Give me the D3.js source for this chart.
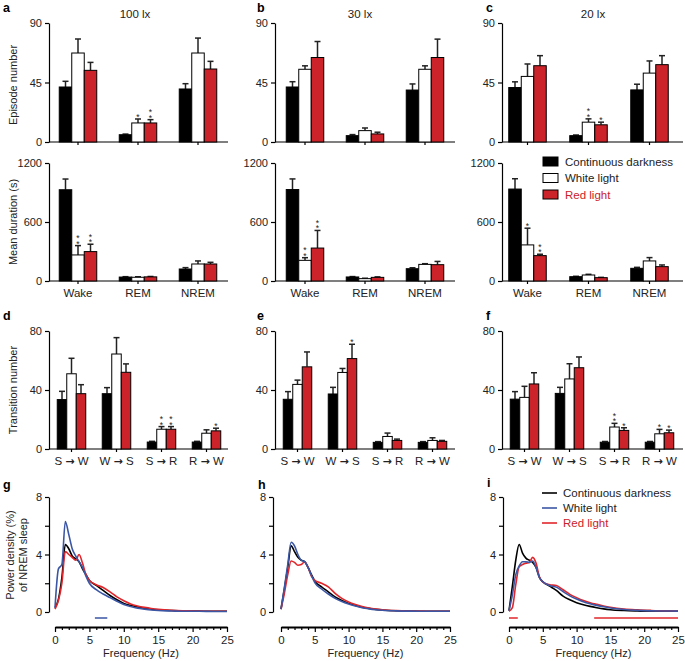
<!DOCTYPE html>
<html><head><meta charset="utf-8">
<script src="https://cdn.jsdelivr.net/npm/d3@7"></script>
<style>
body{margin:0;background:#fff;}
text{font-family:"Liberation Sans",Arial,sans-serif;}
</style></head>
<body><svg id="c" width="685" height="661"></svg>
<script>
// ---------- DATA ----------
const conditions = ["Continuous darkness", "White light", "Red light"];
const stages = ["Wake", "REM", "NREM"];
const transitions = ["S|W", "W|S", "S|R", "R|W"];
const luxLabels = ["100 lx", "30 lx", "20 lx"];
const colors = ["#000000", "#ffffff", "#cc2229"];
const lineColors = ["#000000", "#3a56a5", "#e0262b"];

// Episode number [stage][condition]
const episode100 = [[41.6, 67.3, 54.2], [5.5, 14.4, 14.4], [40.1, 67.3, 55.2]];
const episode100Err = [[4.3, 10.6, 6.0], [0.5, 3.0, 2.5], [4.0, 11.3, 5.8]];
const episode30 = [[41.6, 55.0, 63.9], [4.8, 8.6, 6.1], [39.3, 55.0, 63.9]];
const episode30Err = [[4.0, 2.6, 12.1], [0.8, 2.0, 1.3], [4.6, 2.6, 13.9]];
const episode20 = [[41.2, 49.6, 57.7], [4.8, 15.0, 13.0], [39.4, 52.1, 58.5]];
const episode20Err = [[4.3, 9.4, 7.6], [0.5, 2.5, 2.0], [4.3, 9.2, 6.8]];
const episodeStars = [
  [[0, 0, 0], [0, 1, 2], [0, 0, 0]],
  [[0, 0, 0], [0, 0, 0], [0, 0, 0]],
  [[0, 0, 0], [0, 2, 1], [0, 0, 0]]
];

// Mean duration (s)
const duration100 = [[928, 265, 299], [40, 38, 42], [122, 173, 173]];
const duration100Err = [[109, 95, 75], [4, 5, 4], [14, 31, 17]];
const duration30 = [[930, 210, 335], [41, 24, 37], [125, 169, 166]];
const duration30Err = [[108, 27, 179], [4, 4, 5], [10, 7, 33]];
const duration20 = [[935, 367, 258], [44, 61, 34], [129, 204, 146]];
const duration20Err = [[105, 170, 14], [4, 7, 3], [10, 34, 17]];
const durationStars = [
  [[0, 2, 2], [0, 0, 0], [0, 0, 0]],
  [[0, 2, 2], [0, 0, 0], [0, 0, 0]],
  [[0, 1, 2], [0, 0, 0], [0, 0, 0]]
];

// Transition number [transition][condition]
const trans100 = [[33.5, 51.0, 37.5], [37.5, 64.4, 52.0], [4.7, 13.4, 13.4], [4.7, 10.7, 12.3]];
const trans100Err = [[5.6, 10.5, 6.1], [4.1, 11.1, 5.7], [0.5, 1.8, 1.8], [0.5, 2.3, 1.8]];
const trans30 = [[33.7, 43.8, 55.7], [37.3, 51.9, 61.3], [4.5, 8.5, 5.8], [4.5, 5.8, 5.2]];
const trans30Err = [[5.2, 2.9, 10.1], [4.5, 2.7, 9.7], [0.5, 2.3, 0.9], [0.5, 1.8, 0.6]];
const trans20 = [[33.8, 35.0, 44.1], [37.7, 47.5, 55.1], [4.6, 14.9, 12.6], [4.6, 10.3, 11.0]];
const trans20Err = [[5.1, 7.5, 7.6], [4.1, 10.3, 7.3], [0.5, 2.5, 1.8], [0.5, 3.0, 1.8]];
const transStars = [
  [[0, 0, 0], [0, 0, 0], [0, 2, 2], [0, 0, 1]],
  [[0, 0, 0], [0, 0, 1], [0, 0, 0], [0, 0, 0]],
  [[0, 0, 0], [0, 0, 0], [0, 2, 1], [0, 1, 1]]
];

// Power density (% of NREM sleep)
const freq = [0, 0.5, 1, 1.5, 2, 2.5, 3, 3.5, 4, 4.5, 5, 6, 7, 8, 9, 10, 11, 12, 13, 14, 15, 17, 19, 21, 23, 25];
const power100Dark  = [0.3, 0.9, 2.4, 4.7, 4.4, 3.9, 3.7, 3.5, 3.0, 2.6, 2.2, 1.85, 1.5, 1.15, 0.85, 0.6, 0.45, 0.35, 0.27, 0.2, 0.15, 0.1, 0.07, 0.06, 0.05, 0.05];
const power100White = [0.3, 3.0, 3.3, 6.3, 5.4, 4.4, 3.9, 3.5, 3.1, 2.5, 2.0, 1.55, 1.25, 1.0, 0.75, 0.52, 0.38, 0.27, 0.2, 0.14, 0.1, 0.07, 0.05, 0.05, 0.04, 0.04];
const power100Red   = [0.2, 0.8, 2.0, 4.2, 4.0, 3.8, 3.6, 4.0, 3.4, 2.6, 2.2, 1.9, 1.7, 1.4, 1.05, 0.78, 0.56, 0.42, 0.32, 0.24, 0.18, 0.11, 0.08, 0.06, 0.05, 0.05];
const power30Dark   = [0.2, 1.6, 3.1, 4.6, 4.2, 3.8, 3.6, 3.5, 3.1, 2.6, 2.15, 1.75, 1.4, 1.05, 0.8, 0.6, 0.45, 0.33, 0.25, 0.18, 0.14, 0.09, 0.07, 0.05, 0.05, 0.05];
const power30White  = [0.2, 1.7, 3.3, 4.85, 4.6, 4.0, 3.6, 3.5, 3.1, 2.55, 2.05, 1.6, 1.25, 0.95, 0.73, 0.56, 0.42, 0.3, 0.22, 0.16, 0.12, 0.08, 0.06, 0.05, 0.05, 0.05];
const power30Red    = [0.2, 1.3, 2.6, 3.55, 3.45, 3.25, 3.3, 3.5, 3.1, 2.5, 2.2, 2.0, 1.75, 1.3, 0.95, 0.7, 0.52, 0.38, 0.28, 0.21, 0.16, 0.1, 0.07, 0.06, 0.05, 0.05];
const power20Dark   = [0.1, 1.8, 3.6, 4.7, 4.1, 3.75, 3.6, 3.45, 3.1, 2.4, 2.1, 1.8, 1.5, 1.1, 0.85, 0.65, 0.5, 0.39, 0.3, 0.22, 0.16, 0.1, 0.07, 0.05, 0.05, 0.05];
const power20White  = [0.1, 1.2, 2.6, 3.2, 3.5, 3.5, 3.45, 3.55, 3.1, 2.4, 2.1, 1.85, 1.73, 1.42, 1.12, 0.9, 0.72, 0.58, 0.46, 0.36, 0.28, 0.17, 0.11, 0.08, 0.07, 0.06];
const power20Red    = [0.05, 0.3, 1.9, 3.15, 3.3, 3.4, 3.45, 3.8, 3.4, 2.45, 2.1, 1.9, 1.84, 1.55, 1.23, 1.0, 0.8, 0.65, 0.53, 0.42, 0.33, 0.21, 0.15, 0.11, 0.08, 0.07];
// significance bars [from Hz, to Hz, condition index]
const sig100 = [[5.8, 7.6, 1]];
const sig30 = [];
const sig20 = [[0, 1.3, 2], [12.6, 25, 2]];

// ---------- LAYOUT ----------
const svg = d3.select("#c");
const FONT = 11;
const panelsX = [
  {axis: 49, band: [48, 228], end: 228, title: 135, letter: 3},
  {axis: 275, band: [275, 455], end: 455, title: 360, letter: 257},
  {axis: 502, band: [497, 680], end: 683, title: 593, letter: 486}
];

function yAxis(g, y, ticks, labels) {
  const ax = d3.axisLeft(y).tickValues(ticks).tickSize(4).tickSizeOuter(0).tickPadding(3)
    .tickFormat(d => labels === undefined || labels.includes(d) ? d : "");
  g.call(ax);
  g.select(".domain").attr("stroke", "#000").attr("stroke-width", 1.2);
  g.selectAll(".tick line").attr("stroke", "#000").attr("stroke-width", 1.2);
  g.selectAll(".tick text").attr("font-size", FONT).attr("fill", "#222").attr("font-family", "Liberation Sans, Arial");
}

function barPanel(px, yRange, yMax, yTicks, cats, vals, errs, stars, bw, catLabels) {
  const g = svg.append("g");
  const x0 = d3.scaleBand().domain(cats).range(px.band).paddingInner(0).paddingOuter(0);
  const x1 = d3.scaleBand().domain(conditions).range([-1.5 * bw, 1.5 * bw]);
  const y = d3.scaleLinear().domain([0, yMax]).range(yRange);
  g.append("line").attr("x1", px.axis).attr("x2", px.end).attr("y1", yRange[0]).attr("y2", yRange[0])
    .attr("stroke", "#000").attr("stroke-width", 1.2);
  cats.forEach((c, i) => {
    const cx = x0(c) + x0.bandwidth() / 2;
    g.append("line").attr("x1", cx).attr("x2", cx).attr("y1", yRange[0]).attr("y2", yRange[0] + 3)
      .attr("stroke", "#000").attr("stroke-width", 1.2);
    conditions.forEach((cond, j) => {
      const v = vals[i][j], e = errs[i][j];
      const bx = cx + x1(cond);
      const bc = bx + bw / 2;
      g.append("line").attr("x1", bc).attr("x2", bc).attr("y1", y(v)).attr("y2", y(v + e))
        .attr("stroke", "#222").attr("stroke-width", 1.5);
      g.append("line").attr("x1", bc - 3).attr("x2", bc + 3).attr("y1", y(v + e)).attr("y2", y(v + e))
        .attr("stroke", "#222").attr("stroke-width", 1.5);
      g.append("rect").attr("x", bx).attr("y", y(v)).attr("width", bw).attr("height", y(0) - y(v))
        .attr("fill", colors[j]).attr("stroke", "#000").attr("stroke-width", 1);
      const ns = stars[i][j];
      if (ns > 0) {
        const t = g.append("text").attr("text-anchor", "middle").attr("font-size", 8.5).attr("fill", "#222");
        for (let s = ns - 1; s >= 0; s--) {
          t.append("tspan").attr("x", bc).attr("y", y(v + e) + 1 - s * 5.5).text("*");
        }
      }
    });
    if (catLabels) {
      const t = g.append("text").attr("x", cx).attr("y", yRange[0] + 16).attr("text-anchor", "middle")
        .attr("font-size", FONT + 0.5).attr("fill", "#222");
      const lab = catLabels[i];
      if (lab.includes("|")) {
        const [a, b] = lab.split("|");
        t.append("tspan").text(a + " ");
        t.append("tspan").attr("font-weight", "bold").attr("font-family", "DejaVu Sans").attr("font-size", 11).text("\u2192");
        t.append("tspan").text(" " + b);
      } else t.text(lab);
    }
  });
  const ga = g.append("g").attr("transform", `translate(${px.axis},0)`);
  yAxis(ga, y, yTicks);
}

const epData = [[episode100, episode100Err], [episode30, episode30Err], [episode20, episode20Err]];
const duData = [[duration100, duration100Err], [duration30, duration30Err], [duration20, duration20Err]];
const trData = [[trans100, trans100Err], [trans30, trans30Err], [trans20, trans20Err]];

for (let p = 0; p < 3; p++) {
  barPanel(panelsX[p], [142, 23], 90, [0, 45, 90], stages, epData[p][0], epData[p][1], episodeStars[p], 12.5, null);
  barPanel(panelsX[p], [281, 163], 1200, [0, 600, 1200], stages, duData[p][0], duData[p][1], durationStars[p], 12.5, stages);
  const px3 = {axis: panelsX[p].axis, band: [panelsX[p].axis, panelsX[p].axis + 180], end: panelsX[p].end};
  barPanel(px3, [449, 331], 80, [0, 40, 80], transitions, trData[p][0], trData[p][1], transStars[p], 9.5, transitions);
  svg.append("text").attr("x", panelsX[p].title).attr("y", 18).attr("text-anchor", "middle")
    .attr("font-size", FONT + 0.5).attr("fill", "#222").text(luxLabels[p]);
}

// panel letters
const letters = [["a", 3, 12], ["b", 257, 12], ["c", 486, 12], ["d", 3, 320], ["e", 257, 320], ["f", 486, 320], ["g", 3, 489], ["h", 258, 489], ["i", 487, 487]];
letters.forEach(l => svg.append("text").attr("x", l[1]).attr("y", l[2]).attr("font-weight", "bold")
  .attr("font-size", 12.5).attr("fill", "#000").text(l[0]));

function yLabel(txt, x, yc) {
  svg.append("text").attr("transform", `translate(${x},${yc}) rotate(-90)`).attr("text-anchor", "middle")
    .attr("font-size", FONT).attr("fill", "#222").text(txt);
}
yLabel("Episode number", 17, 85);
yLabel("Mean duration (s)", 17, 222);
yLabel("Transition number", 17, 390);
yLabel("Power density (%)", 14, 555);
yLabel("of NREM sleep", 27, 555);

// legend (bars)
conditions.forEach((c, j) => {
  const yy = 157 + j * 16.5;
  svg.append("rect").attr("x", 543).attr("y", yy).attr("width", 15).attr("height", 9)
    .attr("fill", colors[j]).attr("stroke", "#000").attr("stroke-width", 1);
  svg.append("text").attr("x", 565).attr("y", yy + 8.5).attr("font-size", FONT + 0.5)
    .attr("fill", j === 2 ? "#cc2229" : "#222").text(c);
});

// ---------- SPECTRA ----------
const specPanels = [
  {axis: 49, x: [55, 227], series: [power100Dark, power100White, power100Red], sig: sig100},
  {axis: 273, x: [281, 450], series: [power30Dark, power30White, power30Red], sig: sig30},
  {axis: 503, x: [509, 678], series: [power20Dark, power20White, power20Red], sig: sig20}
];
specPanels.forEach(sp => {
  const g = svg.append("g");
  const x = d3.scaleLinear().domain([0, 25]).range(sp.x);
  const y = d3.scaleLinear().domain([0, 8]).range([612, 497]);
  const line = d3.line().x((d, i) => x(freq[i])).y(d => y(d)).curve(d3.curveMonotoneX);
  [0, 2, 1].forEach(k => {
    g.append("path").datum(sp.series[k]).attr("d", line).attr("fill", "none")
      .attr("stroke", lineColors[k]).attr("stroke-width", 1.6);
  });
  sp.sig.forEach(s => {
    g.append("line").attr("x1", x(s[0])).attr("x2", x(s[1])).attr("y1", 618).attr("y2", 618)
      .attr("stroke", lineColors[s[2]]).attr("stroke-width", 1.5);
  });
  const ga = g.append("g").attr("transform", `translate(${sp.axis},0)`);
  yAxis(ga, y, [0, 2, 4, 6, 8], [0, 4, 8]);
  const gx = g.append("g").attr("transform", "translate(0,627)");
  gx.call(d3.axisBottom(x).tickValues(d3.range(0, 26)).tickSizeOuter(0).tickPadding(3)
    .tickFormat(d => d % 5 === 0 ? d : ""));
  gx.select(".domain").attr("stroke", "#000").attr("stroke-width", 1.8);
  gx.selectAll(".tick line").attr("stroke", "#000").attr("stroke-width", 1.2)
    .attr("y2", d => d % 5 === 0 ? 5 : 3);
  gx.selectAll(".tick text").attr("font-size", FONT + 0.5).attr("fill", "#222").attr("font-family", "Liberation Sans, Arial");
  svg.append("text").attr("x", (sp.x[0] + sp.x[1]) / 2).attr("y", 657).attr("text-anchor", "middle")
    .attr("font-size", FONT).attr("fill", "#222").text("Frequency (Hz)");
});

// legend (lines)
conditions.forEach((c, j) => {
  const yy = 493 + j * 15;
  svg.append("line").attr("x1", 542).attr("x2", 557).attr("y1", yy).attr("y2", yy)
    .attr("stroke", lineColors[j]).attr("stroke-width", 1.6);
  svg.append("text").attr("x", 563).attr("y", yy + 4).attr("font-size", FONT + 0.5)
    .attr("fill", j === 2 ? "#cc2229" : "#222").text(c);
});
</script></body></html>
